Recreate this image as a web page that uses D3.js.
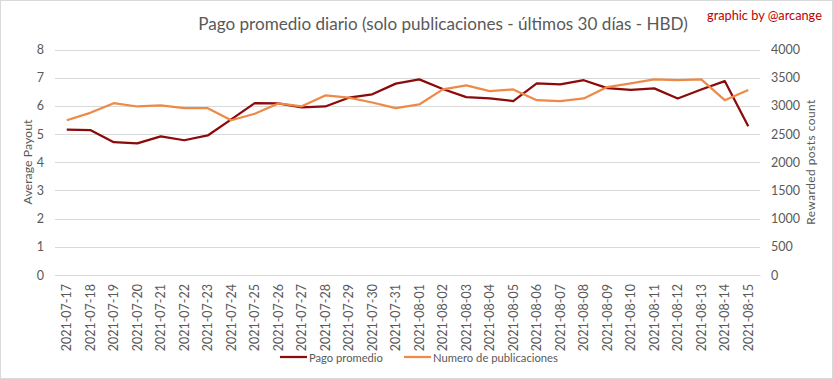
<!DOCTYPE html>
<html><head><meta charset="utf-8">
<script src="https://cdn.jsdelivr.net/npm/d3@7"></script>
<style>
html,body{margin:0;padding:0;background:#fff;}
svg{display:block;font-family:Lato,"Open Sans",sans-serif;}
</style></head>
<body>
<svg id="c" width="833" height="379"></svg>
<script>
const dates = ["2021-07-17","2021-07-18","2021-07-19","2021-07-20","2021-07-21","2021-07-22","2021-07-23","2021-07-24","2021-07-25","2021-07-26","2021-07-27","2021-07-28","2021-07-29","2021-07-30","2021-07-31","2021-08-01","2021-08-02","2021-08-03","2021-08-04","2021-08-05","2021-08-06","2021-08-07","2021-08-08","2021-08-09","2021-08-10","2021-08-11","2021-08-12","2021-08-13","2021-08-14","2021-08-15"];
const pagoPromedio = [5.16,5.14,4.71,4.67,4.92,4.78,4.95,5.52,6.10,6.09,5.95,5.98,6.29,6.41,6.79,6.94,6.60,6.31,6.27,6.17,6.80,6.76,6.91,6.63,6.57,6.62,6.26,6.58,6.88,5.28];
const numeroPublicaciones = [2745,2877,3048,2989,3007,2959,2959,2745,2860,3043,2992,3185,3145,3060,2959,3025,3292,3363,3262,3292,3101,3084,3132,3333,3399,3470,3458,3470,3101,3280];
const leftTicks = [0,1,2,3,4,5,6,7,8];
const rightTicks = [0,500,1000,1500,2000,2500,3000,3500,4000];

const svg = d3.select("#c");
const W = 833, H = 379;
const txt = "#595959", grid = "#d9d9d9";
const redC = "#8b0a0a", orangeC = "#ee8a45";

svg.append("rect").attr("x",0.5).attr("y",0.5).attr("width",W-1).attr("height",H-1)
  .attr("fill","#fff").attr("stroke","#d9d9d9");

const x = d3.scaleBand().domain(dates).range([55,760]);
const yL = d3.scaleLinear().domain([0,8]).range([275,49.5]);
const yR = d3.scaleLinear().domain([0,4000]).range([275,49.5]);

// gridlines
svg.append("g").selectAll("line").data(leftTicks).join("line")
  .attr("x1",55).attr("x2",760)
  .attr("y1",d=>Math.round(yL(d))+0.5).attr("y2",d=>Math.round(yL(d))+0.5)
  .attr("stroke",grid).attr("stroke-width",1);

// left axis
const gL = svg.append("g").attr("transform","translate(52,0)")
  .call(d3.axisLeft(yL).tickValues(leftTicks).tickFormat(d3.format("d")).tickSize(0).tickPadding(8));
gL.select(".domain").remove();
gL.selectAll("text").attr("fill",txt).style("font-size","12.5px").style("font-family","Lato,sans-serif");

// right axis
const gR = svg.append("g").attr("transform","translate(763,0)")
  .call(d3.axisRight(yR).tickValues(rightTicks).tickFormat(d3.format("d")).tickSize(0).tickPadding(8));
gR.select(".domain").remove();
gR.selectAll("text").attr("fill",txt).style("font-size","12.5px").style("font-family","Lato,sans-serif");

// bottom axis labels
const gB = svg.append("g").attr("transform","translate(0,275)")
  .call(d3.axisBottom(x).tickSize(0).tickPadding(0));
gB.select(".domain").attr("stroke",grid);
gB.selectAll("text").attr("fill",txt).style("font-size","12.5px").style("font-family","Lato,sans-serif")
  .attr("text-anchor","end").attr("dy","0.35em")
  .attr("transform","translate(0,9) rotate(-90)").attr("x",0).attr("y",0);

// lines
const lineL = d3.line().x(d=>x(d.k)+x.bandwidth()/2).y(d=>yL(d.v));
const lineR = d3.line().x(d=>x(d.k)+x.bandwidth()/2).y(d=>yR(d.v));
svg.append("path").datum(dates.map((k,i)=>({k,v:pagoPromedio[i]})))
  .attr("d",lineL).attr("fill","none").attr("stroke",redC).attr("stroke-width",2.25).attr("stroke-linejoin","round");
svg.append("path").datum(dates.map((k,i)=>({k,v:numeroPublicaciones[i]})))
  .attr("d",lineR).attr("fill","none").attr("stroke",orangeC).attr("stroke-width",2.25).attr("stroke-linejoin","round");

function fit(sel, width){
  const w = sel.node().getComputedTextLength();
  const fs = parseFloat(sel.style("font-size"));
  sel.style("font-size",(fs*width/w)+"px");
}

// title
const title = svg.append("text").attr("x",443).attr("y",30).attr("text-anchor","middle")
  .attr("fill",txt).style("font-size","18px")
  .text("Pago promedio diario (solo publicaciones - últimos 30 días - HBD)");
fit(title,490);

svg.append("text").attr("x",707).attr("y",20).attr("fill","#c00000").style("font-size","12px")
  .text("graphic by @arcange").call(s=>fit(s,115));

// axis titles
svg.append("text").attr("transform","translate(32,162) rotate(-90)").attr("text-anchor","middle")
  .attr("fill",txt).style("font-size","13px").text("Average Payout").call(s=>fit(s,85));
svg.append("text").attr("transform","translate(815,162) rotate(-90)").attr("text-anchor","middle")
  .attr("fill",txt).style("font-size","13px").style("letter-spacing","0.5px").text("Rewarded posts count").call(s=>fit(s,125));

// legend
const leg = svg.append("g");
const items = [{name:"Pago promedio",c:redC,x:280,w:74},{name:"Numero de publicaciones",c:orangeC,x:404,w:125}];
items.forEach(it=>{
  leg.append("line").attr("x1",it.x).attr("x2",it.x+27).attr("y1",357).attr("y2",357)
    .attr("stroke",it.c).attr("stroke-width",2.25);
  leg.append("text").attr("x",it.x+29).attr("y",361.5).attr("fill",txt).style("font-size","12px")
    .text(it.name).call(s=>fit(s,it.w));
});
</script>
</body></html>
